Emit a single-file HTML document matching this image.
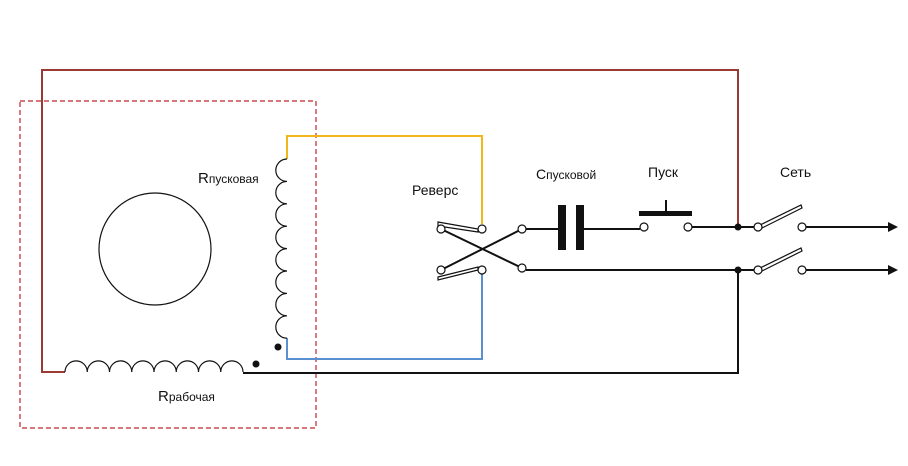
<!DOCTYPE html>
<html><head><meta charset="utf-8"><style>
body{margin:0;background:#fff}
svg{display:block}
text{font-family:"Liberation Sans",sans-serif;fill:#111}
</style></head><body>
<svg width="908" height="466" viewBox="0 0 908 466" xmlns="http://www.w3.org/2000/svg">
<rect x="20" y="101" width="296" height="327" fill="none" stroke="#c0262c" stroke-width="1.2" stroke-dasharray="5,3"/>
<circle cx="155" cy="249" r="56" fill="none" stroke="#111" stroke-width="1.2"/>
<polyline points="65,372 42,372 42,70 738,70 738,227" fill="none" stroke="#9b3a33" stroke-width="2"/>
<polyline points="287,159 287,136 482,136 482,224" fill="none" stroke="#f2b51c" stroke-width="2"/>
<polyline points="287,338 287,359 482,359 482,274" fill="none" stroke="#5a8fd0" stroke-width="2"/>
<path d="M287,159 a11.2,11.2 0 0 0 0,22.4 a11.2,11.2 0 0 0 0,22.4 a11.2,11.2 0 0 0 0,22.4 a11.2,11.2 0 0 0 0,22.4 a11.2,11.2 0 0 0 0,22.4 a11.2,11.2 0 0 0 0,22.4 a11.2,11.2 0 0 0 0,22.4 a11.2,11.2 0 0 0 0,22.4" fill="none" stroke="#111" stroke-width="1.2"/>
<path d="M65,372 a11.1,11.1 0 0 1 22.25,0 a11.1,11.1 0 0 1 22.25,0 a11.1,11.1 0 0 1 22.25,0 a11.1,11.1 0 0 1 22.25,0 a11.1,11.1 0 0 1 22.25,0 a11.1,11.1 0 0 1 22.25,0 a11.1,11.1 0 0 1 22.25,0 a11.1,11.1 0 0 1 22.25,0" fill="none" stroke="#111" stroke-width="1.2"/>
<circle cx="256" cy="364" r="3.5" fill="#111"/>
<circle cx="278" cy="347" r="3.5" fill="#111"/>
<g stroke="#111" stroke-width="2" fill="none">
<polyline points="243,373 738,373 738,270"/>
<line x1="441" y1="229" x2="522" y2="268"/>
<line x1="441" y1="270" x2="522" y2="229"/>
<line x1="526" y1="229" x2="558" y2="229"/>
<line x1="584" y1="229" x2="640" y2="229"/>
<line x1="692" y1="227" x2="755" y2="227"/>
<line x1="526" y1="270" x2="755" y2="270"/>
<line x1="806" y1="227" x2="888" y2="227"/>
<line x1="806" y1="270" x2="888" y2="270"/>
<line x1="666" y1="200" x2="666" y2="213"/>
</g>
<rect x="558" y="205" width="8" height="45" fill="#111"/>
<rect x="576" y="205" width="8" height="45" fill="#111"/>
<rect x="639" y="211" width="53" height="5" fill="#111"/>
<polygon points="888,222 898,227 888,232" fill="#111"/>
<polygon points="888,265 898,270 888,275" fill="#111"/>
<circle cx="738" cy="227" r="3.5" fill="#111"/>
<circle cx="738" cy="270" r="3.5" fill="#111"/>
<g fill="#fff" stroke="#111" stroke-width="1.2">
<polygon points="438,222 478,229 478,232 438,226"/>
<polygon points="438,277 478,267 478,270 438,280"/>
<polygon points="760,225 801,205 802,208 762,228"/>
<polygon points="760,268 801,248 802,251 762,271"/>
<circle cx="441" cy="229" r="4"/>
<circle cx="482" cy="229" r="4"/>
<circle cx="441" cy="270" r="4"/>
<circle cx="482" cy="270" r="4"/>
<circle cx="522" cy="229" r="4"/>
<circle cx="522" cy="268" r="4"/>
<circle cx="644" cy="227" r="4"/>
<circle cx="688" cy="227" r="4"/>
<circle cx="758" cy="227" r="4"/>
<circle cx="802" cy="227" r="4"/>
<circle cx="758" cy="270" r="4"/>
<circle cx="802" cy="270" r="4"/>
</g>
<text x="198" y="183" font-size="12"><tspan font-size="15">R</tspan>пусковая</text>
<text x="158" y="401" font-size="12"><tspan font-size="15">R</tspan>рабочая</text>
<text x="412" y="195" font-size="14">Реверс</text>
<text x="536" y="179" font-size="12"><tspan font-size="14">С</tspan>пусковой</text>
<text x="648" y="177" font-size="14">Пуск</text>
<text x="780" y="177" font-size="14">Сеть</text>
</svg>
</body></html>
